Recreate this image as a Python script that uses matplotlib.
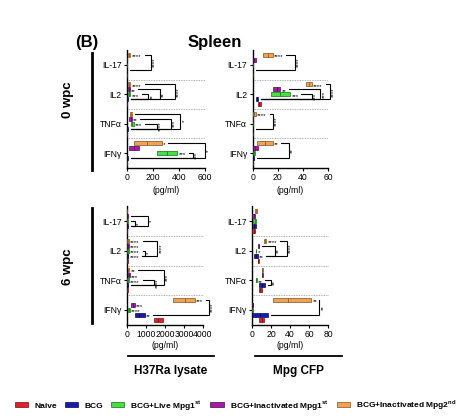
import matplotlib.pyplot as plt
from matplotlib.patches import Patch

plt.rcParams['font.family'] = ['Liberation Sans', 'DejaVu Sans']
plt.rcParams['mathtext.fontset'] = 'custom'
plt.rcParams['mathtext.rm'] = 'Liberation Sans'
plt.rcParams['mathtext.bf'] = 'Liberation Sans:bold'

# rows of every table: IFNγ, TNFα, IL2, IL-17 ; columns: the five groups
cytokines = ["IFNγ", "TNFα", "IL2", "IL-17"]
groups = ["Naive", "BCG", r"BCG+Live Mpg1$^{\mathbf{st}}$",
          r"BCG+Inactivated Mpg1$^{\mathbf{st}}$", r"BCG+Inactivated Mpg2$^{\mathbf{nd}}$"]
face_colors = ["#e3202a", "#1a1aa8", "#44e044", "#a31ca3", "#f2a052"]
edge_colors = ["#701010", "#0a0a50", "#1a6a1a", "#4a0a4a", "#805020"]
row_offsets = [-0.34, -0.17, 0.0, 0.17, 0.34]

# 0 wpc, H37Ra lysate
a_lo = [[0, 0, 233, 15, 54], [0, 0, 28, 18, 20], [0, 0, 5, 5, 5], [0, 0, 0, 0, 5]]
a_med = [[1, 2, 305, 55, 155], [1, 3, 38, 27, 30], [1, 2, 15, 12, 15], [0.5, 1, 1, 1, 15]]
a_hi = [[3, 5, 387, 95, 267], [2, 6, 50, 35, 40], [2, 4, 25, 20, 25], [1, 2, 2, 2, 25]]
a_stars = [["", "", "***", "", "*"], ["", "", "***", "**", ""],
           ["", "", "***", "**", "****"], ["", "", "", "", "****"]]
a_brackets = [(0, 4, 600, "*"), (0, 2, 505, "***"), (1, 4, 410, "*"), (1, 3, 335, "***"),
              (1, 2, 230, "****"), (2, 4, 370, "****"), (2, 3, 255, "**"), (2, 2, 165, "**"),
              (3, 4, 185, "****")]

# 0 wpc, Mpg CFP
b_lo = [[0, 0, 0, 0, 3.7], [0, 0, 0, 0, 0], [4, 2.6, 14.6, 16.2, 42.5], [0, 0, 0, 0, 8.3]]
b_med = [[0.1, 0.4, 0.7, 2, 10], [0.1, 0.1, 0.1, 0.1, 1.2], [5.3, 3.5, 22, 19, 45], [0.1, 0.1, 0.1, 1.3, 12]]
b_hi = [[0.3, 0.8, 1.5, 4, 15.9], [0.2, 0.2, 0.2, 0.3, 2.5], [6.6, 4.5, 29.8, 22, 47], [0.2, 0.2, 0.2, 2.7, 15.8]]
b_stars = [["", "", "", "", "**"], ["", "", "", "", "****"],
           ["", "", "***", "**", "****"], ["", "", "", "", "****"]]
b_brackets = [(0, 4, 29, "**"), (1, 4, 16.3, "****"), (2, 4, 61.5, "****"), (2, 3, 54, "***"),
              (2, 2, 47, "***"), (3, 4, 33.7, "****")]

# 6 wpc, H37Ra lysate
c_lo = [[1410, 420, 30, 200, 2424], [0, 0, 0, 40, 30], [0, 0, 0, 0, 0], [0, 0, 0, 0, 0]]
c_med = [[1650, 650, 90, 300, 3036], [20, 30, 40, 95, 75], [15, 30, 40, 40, 40], [10, 15, 15, 15, 10]]
c_hi = [[1900, 940, 150, 400, 3560], [40, 60, 80, 150, 120], [30, 60, 80, 80, 80], [20, 30, 30, 30, 20]]
c_stars = [["", "**", "****", "***", "***"], ["", "", "****", "***", "**"],
           ["", "****", "****", "****", "****"], ["", "", "", "", ""]]
c_brackets = [(0, 4, 4300, "****"), (1, 4, 1950, "***"), (1, 2, 1400, "****"),
              (2, 4, 1600, "****"), (2, 2, 950, "*"), (3, 3, 1100, "*"), (3, 2, 420, "*")]

# 6 wpc, Mpg CFP
d_lo = [[7, 0, 0, 0, 22], [7, 7, 4, 10, 10], [6, 2.4, 4, 6.5, 12.5], [0.5, 1.3, 1.3, 0.5, 3]]
d_med = [[10, 8, 0.4, 0.7, 38], [8.7, 10, 4.5, 10.7, 10.7], [6.5, 4, 4.2, 7, 13.7], [1.7, 2.5, 2.7, 1.7, 4.2]]
d_hi = [[13, 17, 0.8, 1.5, 62], [10.5, 14, 5, 11.5, 11.5], [7, 6, 4.5, 7.5, 15], [3, 3.7, 4.2, 3, 5.5]]
d_stars = [["", "", "", "", "**"], ["", "", "**", "", ""],
           ["", "**", "*", "", "****"], ["", "", "", "", ""]]
d_brackets = [(0, 4, 71, "**"), (1, 2, 20, "**"), (2, 4, 36.5, "****"), (2, 3, 24, "**")]


def rect(x0, x1, ytop, ybot):
    return [x0 / 471, 1 - ybot / 417, (x1 - x0) / 471, (ybot - ytop) / 417]


def draw_panel(ax, lo, med, hi, stars, brackets, xmax, xticks):
    h = 0.13
    pad = xmax * 0.02
    char = xmax * 0.036
    for c in range(len(cytokines)):
        for g in range(len(groups)):
            y = c + row_offsets[g]
            ax.barh(y, hi[c][g] - lo[c][g], left=lo[c][g], height=h,
                    color=face_colors[g], edgecolor=edge_colors[g], linewidth=0.5, zorder=3)
            ax.vlines(med[c][g], y - h / 2, y + h / 2, color=edge_colors[g], lw=0.5, zorder=4)
            if stars[c][g]:
                ax.text(hi[c][g] + pad, y - 0.06, stars[c][g], fontsize=4.5,
                        ha='left', va='center', clip_on=False)
    for c, g, bx, label in brackets:
        y_top = c + row_offsets[g]
        y_bot = c + row_offsets[1]
        x_top = hi[c][g] + 2 * pad + len(stars[c][g]) * char
        x_bot = hi[c][1] + 2 * pad + len(stars[c][1]) * char
        ax.plot([x_top, bx, bx, x_bot], [y_top, y_top, y_bot, y_bot],
                color='black', lw=0.8, clip_on=False, solid_joinstyle='miter')
        ax.text(bx + pad * 0.8, (y_top + y_bot) / 2, label, fontsize=4.5, rotation=90,
                ha='left', va='center', clip_on=False)
    for sep in [0.5, 1.5, 2.5]:
        ax.plot([0, xmax], [sep, sep], color='#999999', lw=0.6, ls=(0, (1, 1)), clip_on=False)
    ax.set_xlim(0, xmax)
    ax.set_ylim(-0.5, 3.5)
    ax.set_xticks(xticks)
    ax.set_yticks(range(len(cytokines)))
    ax.set_yticklabels(cytokines)
    ax.tick_params(axis='both', labelsize=6.2, length=2.5, width=0.8, pad=1.5)
    for side in ['top', 'right']:
        ax.spines[side].set_visible(False)
    for side in ['left', 'bottom']:
        ax.spines[side].set_linewidth(1.0)


fig = plt.figure(figsize=(4.71, 4.17), dpi=100)

ax_a = fig.add_axes(rect(127, 205, 50.3, 167.7))
draw_panel(ax_a, a_lo, a_med, a_hi, a_stars, a_brackets, 600, [0, 200, 400, 600])
ax_b = fig.add_axes(rect(252.7, 328, 50.3, 167.7))
draw_panel(ax_b, b_lo, b_med, b_hi, b_stars, b_brackets, 60, [0, 20, 40, 60])
ax_c = fig.add_axes(rect(127, 203, 206.2, 324.8))
draw_panel(ax_c, c_lo, c_med, c_hi, c_stars, c_brackets, 4000, [0, 1000, 2000, 3000, 4000])
ax_d = fig.add_axes(rect(252, 328, 206.2, 324.8))
draw_panel(ax_d, d_lo, d_med, d_hi, d_stars, d_brackets, 80, [0, 20, 40, 60, 80])


def fx(px):
    return px / 471


def fy(py):
    return 1 - py / 417


fig.text(fx(87), fy(42), "(B)", fontsize=12, fontweight='bold', ha='center', va='center')
fig.text(fx(215), fy(42), "Spleen", fontsize=12, fontweight='bold', ha='center', va='center')
fig.text(fx(68), fy(100), "0 wpc", fontsize=9.5, fontweight='bold', rotation=90, ha='center', va='center')
fig.text(fx(68), fy(267), "6 wpc", fontsize=9.5, fontweight='bold', rotation=90, ha='center', va='center')
fig.add_artist(plt.Line2D([fx(92), fx(92)], [fy(53), fy(170)], color='black', lw=2))
fig.add_artist(plt.Line2D([fx(92), fx(92)], [fy(208), fy(323)], color='black', lw=2))

for xc, yc in [(166, 190), (290, 190), (165, 346), (290, 346)]:
    fig.text(fx(xc), fy(yc), "(pg/ml)", fontsize=6.2, ha='center', va='center')

fig.add_artist(plt.Line2D([fx(128), fx(214)], [fy(356), fy(356)], color='black', lw=1.3))
fig.add_artist(plt.Line2D([fx(255), fx(342)], [fy(356), fy(356)], color='black', lw=1.3))
fig.text(fx(171), fy(371), "H37Ra lysate", fontsize=8.5, fontweight='bold', ha='center', va='center')
fig.text(fx(298), fy(371), "Mpg CFP", fontsize=8.5, fontweight='bold', ha='center', va='center')

handles = [Patch(facecolor=face_colors[i], edgecolor=edge_colors[i], linewidth=0.5, label=groups[i])
           for i in range(len(groups))]
fig.legend(handles=handles, loc='center', bbox_to_anchor=(0.5, fy(405)), ncol=5, frameon=False,
           prop={'size': 6, 'weight': 'bold'}, handlelength=1.6, handleheight=0.6,
           handletextpad=0.7, columnspacing=1.0, borderaxespad=0)

fig.savefig("out.png", dpi=100)
